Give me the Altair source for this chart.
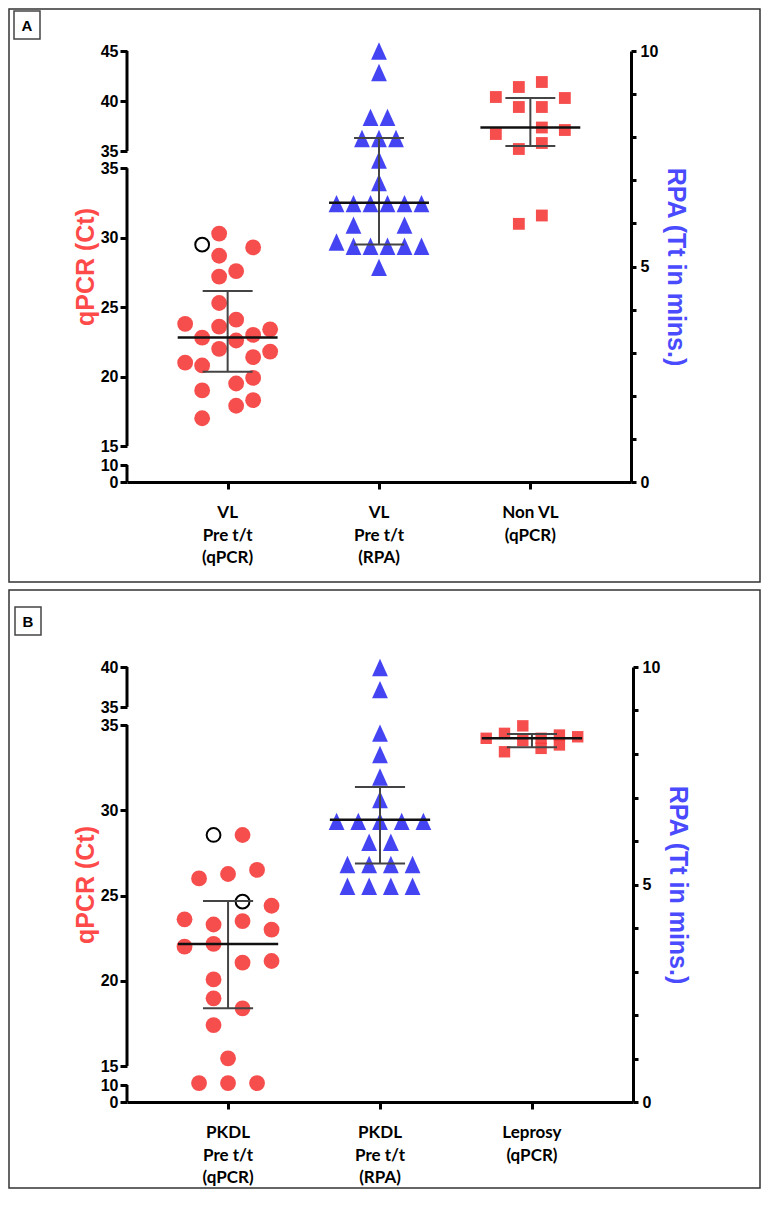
import altair as alt
import pandas as pd

# ---------------- Panel A data ----------------
A_categories = ["VL\nPre t/t\n(qPCR)", "VL\nPre t/t\n(RPA)", "Non VL\n(qPCR)"]
A_vl_qpcr_ct = [30.3, 29.3, 28.7, 27.6, 27.2, 25.3, 24.1, 23.8, 23.6, 23.4, 23.0, 22.8,
                22.6, 22.0, 21.8, 21.4, 21.0, 20.8, 19.9, 19.5, 19.0, 18.3, 17.9, 17.0]
A_vl_qpcr_lane = [-0.5, 1.5, -0.5, 0.5, -0.5, -0.5, 0.5, -2.5, -0.5, 2.5, 1.5, -1.5,
                  0.5, -0.5, 2.5, 1.5, -2.5, -1.5, 1.5, 0.5, -1.5, 1.5, 0.5, -1.5]
A_vl_qpcr_open_ct = [29.5]
A_vl_qpcr_open_lane = [-1.5]
A_vl_rpa_tt = [10.0, 9.5, 8.46, 8.46, 7.97, 7.97, 7.97, 7.47, 6.95,
               6.46, 6.46, 6.46, 6.46, 6.46, 6.46, 5.96, 5.96, 5.57,
               5.47, 5.47, 5.47, 5.47, 5.47, 4.98]
A_vl_rpa_lane = [0, 0, -0.5, 0.5, -1, 0, 1, 0, 0,
                 -2.5, -1.5, -0.5, 0.5, 1.5, 2.5, -1.5, 1.5, -2.5,
                 -1.5, -0.5, 0.5, 1.5, 2.5, 0]
A_nonvl_ct = [41.9, 41.4, 40.4, 40.3, 39.4, 39.4, 37.35, 37.1, 36.7, 35.8, 35.2, 31.6, 31.0]
A_nonvl_lane = [0.5, -0.5, -1.5, 1.5, -0.5, 0.5, 0.5, 1.5, -1.5, 0.5, -0.5, 0.5, -0.5]
A_summary_group = [1, 2, 3]
A_summary_mean = [22.82, 6.48, 37.35]
A_summary_lo = [20.35, 5.51, 35.5]
A_summary_hi = [26.17, 7.98, 40.3]
A_ct_breaks = [0, 10, 15, 35, 35.001, 45]
A_ct_ticks = [0, 10, 15, 20, 25, 30, 35, 35.001, 40, 45]
A_ct_segments = [(0, 10), (15, 35), (35.001, 45)]

# ---------------- Panel B data ----------------
B_categories = ["PKDL\nPre t/t\n(qPCR)", "PKDL\nPre t/t\n(RPA)", "Leprosy\n(qPCR)"]
B_pkdl_qpcr_ct = [28.55, 26.5, 26.26, 26.0, 24.4, 23.6, 23.5, 23.3, 23.0, 22.16, 22.0,
                  21.16, 21.06, 20.08, 18.97, 18.38, 17.4, 15.45, 10.5, 10.5, 10.5]
B_pkdl_qpcr_lane = [1, 2, 0, -2, 3, -3, 1, -1, 3, -1, -3,
                    3, 1, -1, -1, 1, -1, 0, -2, 0, 2]
B_pkdl_qpcr_open_ct = [28.55, 24.64]
B_pkdl_qpcr_open_lane = [-1, 1]
B_pkdl_rpa_tt = [9.99, 9.48, 8.48, 7.99, 7.47, 6.95,
                 6.45, 6.45, 6.45, 6.45, 6.45,
                 5.97, 5.97, 5.46, 5.46, 5.46, 5.46,
                 4.96, 4.96, 4.96, 4.96]
B_pkdl_rpa_lane = [0, 0, 0, 0, 0, 0,
                   -2, -1, 0, 1, 2,
                   -0.5, 0.5, -1.5, -0.5, 0.5, 1.5,
                   -1.5, -0.5, 0.5, 1.5]
B_leprosy_ct = [34.22, 34.51, 33.43, 34.95, 34.08, 34.22, 33.63, 34.41, 33.83, 34.31]
B_leprosy_lane = [-2.5, -1.5, -1.5, -0.5, -0.5, 0.5, 0.5, 1.5, 1.5, 2.5]
B_summary_group = [1, 2, 3]
B_summary_mean = [22.16, 6.49, 34.22]
B_summary_lo = [18.38, 5.48, 33.69]
B_summary_hi = [24.68, 7.24, 34.47]
B_ct_breaks = [0, 10, 15, 35, 35.001, 40]
B_ct_ticks = [0, 10, 15, 20, 25, 30, 35, 35.001, 40]
B_ct_segments = [(0, 10), (15, 35), (35.001, 40)]

RPA_ticks = list(range(11))

# ---------------- styling ----------------
RED = "#f53a3a"
BLUE = "#3030f2"
TITLE_RED = "#ff4a4a"
TITLE_BLUE = "#4a4aff"
NUM_FONT = "Liberation Sans Narrow, Liberation Sans, Arial"
CAT_FONT = "Lato, Open Sans, sans-serif"
TITLE_FONT = "Liberation Sans, Arial"
TRI = "M0,-1.1L1,1.1L-1,1.1Z"
X_MIN, X_MAX = 0.335, 3.665


def build_panel(letter, cats, circ, opens, tris, squares, summary, breaks, break_px,
                ticks, segments, width, height, sp, frame, box):
    ppu = width / (X_MAX - X_MIN)
    xscale = alt.Scale(domain=[X_MIN, X_MAX], nice=False, zero=False)
    x_axis = alt.Axis(values=[1, 2, 3], labels=False, domainWidth=3, domainColor="black",
                      tickWidth=3, tickSize=7, tickColor="black", grid=False, title=None)
    yl = alt.Scale(domain=breaks, range=break_px, nice=False, zero=False)
    yr = alt.Scale(domain=[0, 10], range=[height, 0], nice=False, zero=False)
    left_axis = alt.Axis(orient="left", values=ticks, format=".0f", domain=False, tickWidth=3,
                         tickSize=7, tickColor="black", labelFont=NUM_FONT, labelFontSize=16,
                         labelFontWeight="bold", labelColor="black", labelPadding=2,
                         labelOverlap=False, grid=False, title="qPCR (Ct)", titleColor=TITLE_RED,
                         titleFont=TITLE_FONT, titleFontSize=25, titleFontWeight="bold",
                         titlePadding=2)
    right_axis = alt.Axis(orient="right", values=RPA_ticks,
                          labelExpr="datum.value % 5 == 0 ? datum.label : ''",
                          domainWidth=3, domainColor="black", tickWidth=3, tickSize=5,
                          tickColor="black", labelFont=NUM_FONT, labelFontSize=16,
                          labelFontWeight="bold", labelColor="black", labelPadding=4,
                          labelOverlap=False, grid=False, title="RPA (Tt in mins.)",
                          titleColor=TITLE_BLUE, titleFont=TITLE_FONT, titleFontSize=25,
                          titleFontWeight="bold", titlePadding=5)

    def X(field):
        return alt.X(field, scale=xscale, axis=x_axis)

    def YL(field):
        return alt.Y(field, scale=yl, axis=left_axis)

    def YR(field):
        return alt.Y(field, scale=yr, axis=right_axis)

    seg_df = pd.DataFrame({"lo": [s[0] for s in segments], "hi": [s[1] for s in segments]})
    circ_df = pd.DataFrame({"group": 1, "ct": circ[0], "lane": circ[1]})
    open_df = pd.DataFrame({"group": 1, "ct": opens[0], "lane": opens[1]})
    sq_df = pd.DataFrame({"group": 3, "ct": squares[0], "lane": squares[1]})
    tri_df = pd.DataFrame({"group": 2, "tt": tris[0], "lane": tris[1]})
    cat_df = pd.DataFrame({"group": [1, 2, 3], "label": cats})
    summ = pd.DataFrame({"group": summary[0], "mean": summary[1], "lo": summary[2], "hi": summary[3]})
    summ_q = summ[summ.group != 2]
    summ_r = summ[summ.group == 2]
    one = pd.DataFrame({"k": [0]})

    def xp(spx):
        return f"datum.group + datum.lane * {spx / ppu}"

    axis_seg = alt.Chart(seg_df).mark_rule(strokeWidth=3, color="black", strokeCap="butt").encode(
        x=alt.value(0), y=YL("lo:Q"), y2="hi:Q")
    circles = alt.Chart(circ_df).transform_calculate(xp=xp(sp["c"])).mark_circle(
        size=250, color=RED, opacity=0.9).encode(x=X("xp:Q"), y=YL("ct:Q"))
    opened = alt.Chart(open_df).transform_calculate(xp=xp(sp["c"])).mark_point(
        shape="circle", filled=False, size=190, color="black", strokeWidth=2, opacity=1).encode(
        x=X("xp:Q"), y=YL("ct:Q"))
    sqs = alt.Chart(sq_df).transform_calculate(xp=xp(sp["s"])).mark_square(
        size=sp["ssize"], color=RED, opacity=0.9).encode(x=X("xp:Q"), y=YL("ct:Q"))
    cat_text = alt.Chart(cat_df).mark_text(
        font=CAT_FONT, fontSize=17, fontWeight="bold", color="black", align="center",
        baseline="top", lineBreak="\n", lineHeight=22.5).encode(
        x=X("group:Q"), y=alt.value(height + 23), text="label:N")

    def summary_layers(df, Yf):
        mean = alt.Chart(df).transform_calculate(
            xa="datum.group - 0.33", xb="datum.group + 0.33").mark_rule(
            color="#111111", strokeWidth=2.5).encode(x=X("xa:Q"), x2="xb:Q", y=Yf("mean:Q"))
        vert = alt.Chart(df).mark_rule(color="#444444", strokeWidth=2).encode(
            x=X("group:Q"), y=Yf("lo:Q"), y2="hi:Q")
        caps = alt.Chart(df).transform_fold(["lo", "hi"], as_=["k", "v"]).transform_calculate(
            ca="datum.group - 0.165", cb="datum.group + 0.165").mark_rule(
            color="#444444", strokeWidth=2).encode(x=X("ca:Q"), x2="cb:Q", y=Yf("v:Q"))
        return [vert, caps, mean]

    frame_rect = alt.Chart(one).mark_rect(fillOpacity=0, stroke="#333333", strokeWidth=1.5).encode(
        x=alt.value(frame[0]), x2=alt.value(frame[1]), y=alt.value(frame[2]), y2=alt.value(frame[3]))
    box_rect = alt.Chart(one).mark_rect(fillOpacity=0, stroke="#444444", strokeWidth=1.5).encode(
        x=alt.value(box[0]), x2=alt.value(box[1]), y=alt.value(box[2]), y2=alt.value(box[3]))
    box_text = alt.Chart(one).mark_text(text=letter, font=TITLE_FONT, fontSize=15, fontWeight="bold",
                                        align="center", baseline="middle", color="black").encode(
        x=alt.value((box[0] + box[1]) / 2), y=alt.value((box[2] + box[3]) / 2 + 1))

    left_group = alt.layer(frame_rect, box_rect, box_text, axis_seg, circles, opened, sqs,
                           cat_text, *summary_layers(summ_q, YL))

    tri_layer = alt.Chart(tri_df).transform_calculate(xp=xp(sp["t"])).mark_point(
        shape=TRI, filled=True, size=250, color=BLUE, opacity=0.9).encode(
        x=X("xp:Q"), y=YR("tt:Q"))
    right_group = alt.layer(tri_layer, *summary_layers(summ_r, YR))

    return alt.layer(left_group, right_group).resolve_scale(y="independent").properties(
        width=width, height=height)


panelA = build_panel(
    "A", A_categories,
    (A_vl_qpcr_ct, A_vl_qpcr_lane), (A_vl_qpcr_open_ct, A_vl_qpcr_open_lane),
    (A_vl_rpa_tt, A_vl_rpa_lane), (A_nonvl_ct, A_nonvl_lane),
    (A_summary_group, A_summary_mean, A_summary_lo, A_summary_hi),
    A_ct_breaks, [431, 414, 395, 117.3, 100, 0], A_ct_ticks, A_ct_segments,
    504, 431, {"c": 17, "t": 17, "s": 23, "ssize": 140},
    (-118, 633, -42, 531), (-113, -87, -40, -12))

panelB = build_panel(
    "B", B_categories,
    (B_pkdl_qpcr_ct, B_pkdl_qpcr_lane), (B_pkdl_qpcr_open_ct, B_pkdl_qpcr_open_lane),
    (B_pkdl_rpa_tt, B_pkdl_rpa_lane), (B_leprosy_ct, B_leprosy_lane),
    (B_summary_group, B_summary_mean, B_summary_lo, B_summary_hi),
    B_ct_breaks, [435, 418, 399, 58, 40, 0], B_ct_ticks, B_ct_segments,
    506, 435, {"c": 14.5, "t": 21.7, "s": 18.3, "ssize": 130},
    (-118, 633, -77, 521), (-112, -86, -60, -32))

chart = alt.vconcat(panelA, panelB, spacing=185, bounds="flush").properties(
    padding=0
).configure_view(stroke=None)

chart.save("out.html", embed_options={"renderer": "svg", "actions": False})
